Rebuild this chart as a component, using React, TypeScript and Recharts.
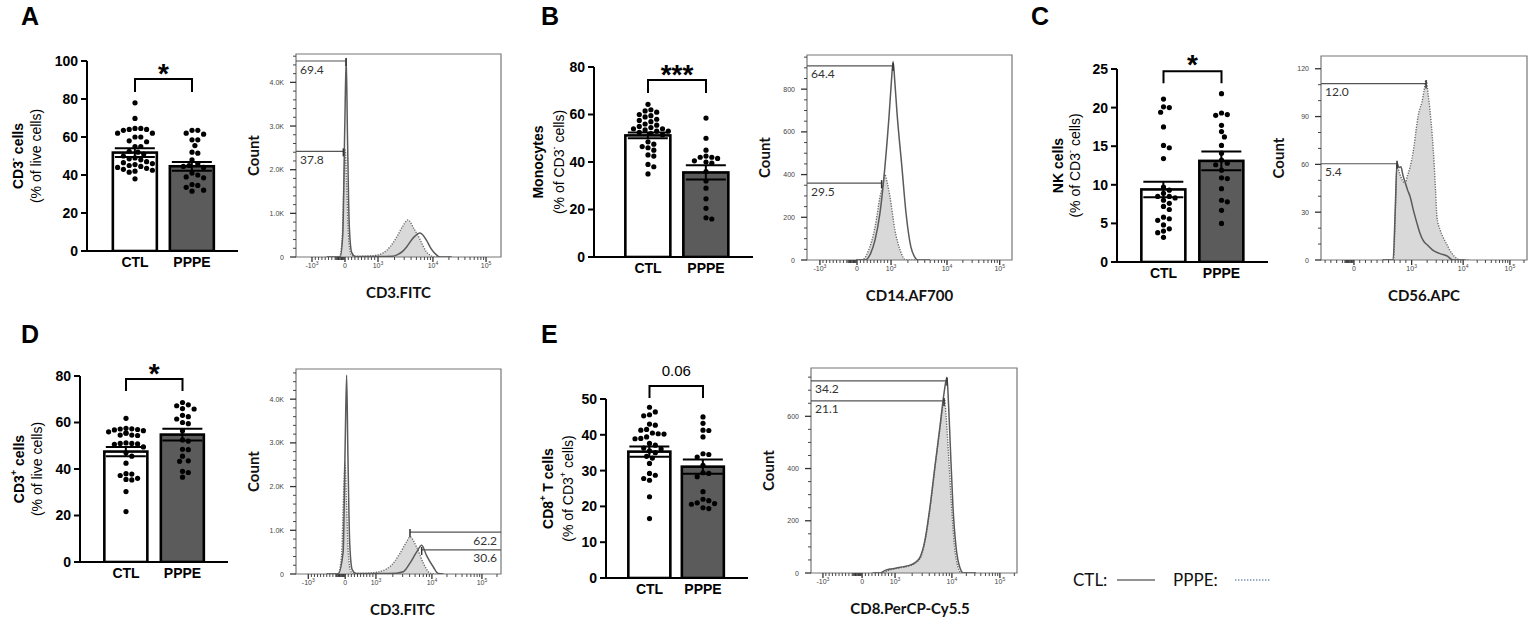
import React from 'react';
import {
  ComposedChart,
  Bar,
  ErrorBar,
  Scatter,
  Area,
  Line,
  XAxis,
  YAxis,
  ReferenceLine,
  ReferenceArea,
} from 'recharts';

const groups = ['CTL', 'PPPE'];

// ---------- dot + bar panels (individual values) ----------
const cd3NegCtl = [78, 69.8, 64.5, 64.5, 64, 64, 63.5, 62, 62, 60, 60, 58, 57.5, 55, 55, 52.5, 52, 51, 50, 49, 48.5, 48, 47, 46.5, 46, 45.5, 45, 44.5, 44, 43.5, 43, 42.5, 42, 41.5, 38];
const cd3NegPppe = [63.5, 63.5, 62, 61.5, 58.5, 58.5, 55.5, 52, 51.5, 48, 46, 45, 44.5, 44, 41, 40, 39, 38.5, 35, 34.5, 33.5, 32, 31.5];
const cd3NegMean = [51.8, 44.6];
const cd3NegSem = [2.3, 2.3];

const monoCtl = [64.3, 62, 61.5, 61, 60, 59.5, 59, 58, 57.5, 57, 56, 55.5, 55, 54.5, 54, 54, 53.5, 53, 53, 52.5, 52, 51.5, 48.5, 47.5, 46.5, 46, 45, 43, 42.5, 39, 38, 35];
const monoPppe = [58.5, 50, 45, 42.5, 42, 42, 41.5, 40.5, 40, 39.5, 36, 32, 29, 24.5, 20.5, 16, 16.5];
const monoMean = [51.2, 35.6];
const monoSem = [1.2, 3.0];

const nkCtl = [21.1, 20.1, 20.0, 19.4, 17.5, 15.1, 14.8, 13.4, 9.7, 9.3, 8.9, 8.5, 8.5, 8.3, 8.0, 7.6, 7.2, 6.8, 5.8, 5.6, 5.4, 4.8, 4.3, 4.0, 3.8, 3.2];
const nkPppe = [21.8, 19.3, 19.1, 19.0, 17.7, 16.9, 16.2, 15.1, 14.1, 13.2, 12.8, 12.6, 11.9, 10.9, 10.8, 9.5, 8.0, 7.8, 6.7, 5.0];
const nkMean = [9.4, 13.1];
const nkSem = [1.0, 1.2];

const cd3PosCtl = [61.8, 57.5, 57.3, 57, 56.8, 57.2, 56.5, 56, 55.5, 55.4, 54.6, 54.6, 54.4, 51.2, 51, 51, 50.8, 50.6, 49.5, 47, 45.5, 42.5, 38, 37.8, 37.2, 36, 35.5, 35.3, 30.3, 21.7];
const cd3PosPppe = [68.6, 67.6, 67.2, 66, 65.8, 63.1, 62.5, 61.5, 60, 59.5, 56.5, 52.5, 52, 48.5, 48.3, 45.5, 43.5, 43.3, 39, 38.5, 36.5];
const cd3PosMean = [47.5, 54.8];
const cd3PosSem = [2.0, 2.5];

const cd8Ctl = [47.7, 46.4, 45.6, 45.3, 43, 42.7, 41.5, 41.3, 40.5, 40.3, 40.2, 39.4, 39, 38.9, 37.6, 37.1, 36.3, 36, 35.5, 35, 34, 33.5, 32, 29.2, 28.7, 27.8, 27.3, 22.7, 16.6];
const cd8Pppe = [45, 43.2, 41.3, 41.2, 39.4, 34.7, 34.5, 33.8, 31.5, 29.4, 29.2, 28.3, 24.1, 22, 21.6, 21, 20.8, 20.6, 19.4, 19.6];
const cd8Mean = [35.3, 31.1];
const cd8Sem = [1.4, 2.0];

const sigLabels = ['*', '***', '*', '*', '0.06'];

// ---------- flow histograms: [channel (0-1000 across the plot), count] ----------
const histACtl = [[150, 0], [215, 0], [228, 500], [238, 3000], [245, 4550], [251, 2800], [260, 700], [272, 100], [290, 10], [400, 10], [470, 20], [493, 50], [520, 130], [541, 240], [574, 450], [605, 550], [637, 380], [655, 220], [670, 120], [690, 30], [702, 0], [760, 0]];
const histAPppe = [[150, 0], [212, 0], [225, 400], [234, 1800], [240, 2450], [247, 1700], [256, 500], [268, 60], [285, 10], [340, 20], [376, 30], [424, 90], [460, 240], [493, 470], [520, 700], [546, 850], [575, 650], [603, 420], [620, 250], [636, 120], [655, 40], [668, 5], [700, 0]];
const histBCtl = [[240, 0], [283, 0], [310, 30], [332, 94], [356, 220], [380, 435], [400, 670], [412, 840], [420, 930], [428, 840], [439, 690], [463, 435], [483, 220], [507, 60], [525, 15], [541, 0], [600, 0]];
const histBPppe = [[240, 0], [268, 0], [298, 40], [332, 155], [356, 295], [372, 360], [380, 400], [392, 360], [405, 295], [429, 140], [454, 47], [470, 10], [483, 0], [540, 0]];
const histCCtl = [[300, 0], [350, 0], [360, 30], [369, 61], [378, 58], [388, 58.5], [398, 53], [408, 49], [420, 44], [432, 40], [449, 31], [466, 23], [480, 17], [495, 12.5], [520, 9], [544, 6], [578, 4], [612, 2.5], [641, 0], [700, 0]];
const histCPppe = [[300, 0], [352, 0], [362, 35], [369, 60], [380, 55], [395, 50], [408, 48], [420, 53], [432, 58], [451, 71], [462, 82], [471, 90], [480, 95], [490, 99], [500, 106], [510, 113], [520, 104], [529, 94], [540, 78], [549, 61], [556, 44], [563, 27], [578, 19], [592, 14.5], [610, 10], [626, 6], [650, 2], [675, 0], [720, 0]];
const histDCtl = [[150, 0], [205, 0], [230, 500], [240, 3000], [247, 4550], [253, 2800], [262, 700], [274, 100], [293, 10], [400, 10], [490, 20], [523, 50], [556, 250], [588, 500], [613, 660], [637, 420], [670, 160], [694, 10], [720, 0]];
const histDPppe = [[150, 0], [205, 0], [222, 400], [232, 1800], [239, 2540], [246, 1700], [255, 500], [267, 60], [285, 10], [340, 15], [393, 40], [459, 170], [507, 470], [540, 740], [556, 850], [588, 620], [621, 250], [654, 20], [680, 0]];
const histECtl = [[300, 0], [335, 0], [360, 10], [383, 15], [410, 18], [432, 22], [456, 25], [481, 30], [505, 40], [529, 60], [553, 125], [578, 255], [602, 410], [626, 560], [646, 690], [660, 750], [668, 640], [675, 510], [689, 255], [704, 100], [723, 20], [740, 0], [800, 0]];
const histEPppe = [[300, 0], [340, 0], [383, 12], [432, 20], [481, 28], [529, 55], [553, 120], [578, 250], [602, 405], [626, 555], [640, 640], [648, 665], [656, 600], [668, 450], [682, 260], [697, 100], [713, 25], [730, 0], [800, 0]];

const kTicks = [0, 1000, 2000, 3000, 4000];
const kTickLabels = ['0', '1.0K', '2.0K', '3.0K', '4.0K'];
const logLabels = ['-10^3', '0', '10^3', '10^4', '10^5'];

const barFont = '"Liberation Sans", Arial, sans-serif';
const flowFont = 'Lato, "Open Sans", sans-serif';

// simple beeswarm: spread points sideways so dots do not overlap
function swarm(values: number[], center: number, pxY: number, unitPx: number, halfW: number) {
  const d = 5.8;
  const placed: { px: number; py: number }[] = [];
  return [...values]
    .sort((a, b) => b - a)
    .map((v) => {
      const py = v * pxY;
      let chosen = 0;
      for (let k = 0; k < 60; k++) {
        const off = (k % 2 === 1 ? 1 : -1) * Math.ceil(k / 2) * (d / 2);
        if (Math.abs(off) > halfW) continue;
        if (placed.every((p) => (p.px - off) ** 2 + (p.py - py) ** 2 >= d * d)) {
          chosen = off;
          break;
        }
      }
      placed.push({ px: chosen, py });
      return { x: center + chosen / unitPx, y: v };
    });
}

const Title = ({ x, y, parts, bold }: any) => (
  <text
    transform={`rotate(-90 ${x} ${y})`}
    x={x}
    y={y}
    textAnchor="middle"
    dominantBaseline="central"
    fontSize={14}
    fontWeight={bold ? 700 : 400}
    fontFamily={barFont}
    fill="#000"
  >
    {parts.map((p: any, i: number) =>
      p.sup ? (
        <tspan key={i} dy={-5} fontSize={9}>{p.t}</tspan>
      ) : (
        <tspan key={i} dy={i > 0 && parts[i - 1].sup ? 5 : 0}>{p.t}</tspan>
      ),
    )}
  </text>
);

function BarPanel({ cfg }: any) {
  const { plot } = cfg;
  const YW = 80;
  const TOP = 45;
  const XH = 30;
  const RIGHT = 10;
  const width = plot.w + YW + RIGHT;
  const height = plot.h + TOP + XH;
  const domain = [-cfg.c0 / cfg.unit, (plot.w - cfg.c0) / cfg.unit];
  const pxY = plot.h / cfg.yMax;
  const halfW = cfg.barSize / 2 - 2;
  const dots = [
    ...swarm(cfg.ctl, 0, pxY, cfg.unit, halfW),
    ...swarm(cfg.pppe, 1, pxY, cfg.unit, halfW),
  ];
  const bars = cfg.means.map((m: number, i: number) => ({ x: i, mean: m, sem: cfg.sems[i] }));
  const sigX = YW + cfg.c0 + cfg.unit / 2;
  const sigY = TOP + plot.h * (1 - cfg.sigLevel / cfg.yMax) + cfg.sigDy;
  const cy = TOP + plot.h / 2;
  return (
    <div style={{ position: 'absolute', left: plot.x - YW, top: plot.y - TOP, width, height }}>
      <ComposedChart width={width} height={height} data={bars} margin={{ top: TOP, right: RIGHT, bottom: 0, left: 0 }}>
        <XAxis
          dataKey="x"
          type="number"
          domain={domain}
          allowDataOverflow
          ticks={[0, 1]}
          interval={0}
          tickFormatter={(v) => groups[v]}
          height={XH}
          tickLine={false}
          tickSize={0}
          tickMargin={6}
          axisLine={{ stroke: '#000', strokeWidth: 2 }}
          tick={{ fill: '#000', fontSize: 14, fontWeight: 700, fontFamily: barFont }}
        />
        <YAxis
          type="number"
          domain={[0, cfg.yMax]}
          allowDataOverflow
          ticks={cfg.yTicks}
          interval={0}
          width={YW}
          tickSize={6}
          tickMargin={3}
          tickLine={{ stroke: '#000', strokeWidth: 2 }}
          axisLine={{ stroke: '#000', strokeWidth: 2 }}
          tick={{ fill: '#000', fontSize: 14, fontWeight: 700, fontFamily: barFont }}
          label={() => (
            <g>
              <Title x={YW - cfg.titleOffsets[0]} y={cy} parts={cfg.title1} bold />
              <Title x={YW - cfg.titleOffsets[1]} y={cy} parts={cfg.title2} />
            </g>
          )}
        />
        <Bar
          dataKey="mean"
          isAnimationActive={false}
          shape={(p: any) => {
            const cx = p.x + p.width / 2;
            return (
              <rect
                x={cx - cfg.barSize / 2}
                y={p.y}
                width={cfg.barSize}
                height={p.height}
                fill={p.payload.x === 0 ? '#ffffff' : '#5b5b5b'}
                stroke="#000"
                strokeWidth={2.6}
              />
            );
          }}
        >
          <ErrorBar dataKey="sem" width={20} strokeWidth={2} stroke="#000" direction="y" isAnimationActive={false} />
        </Bar>
        <Scatter
          data={dots}
          dataKey="y"
          isAnimationActive={false}
          shape={(p: any) => <circle cx={p.cx} cy={p.cy} r={2.6} fill="#000" />}
        />
        <ReferenceLine
          segment={[{ x: 0, y: cfg.sigLevel }, { x: 1, y: cfg.sigLevel }]}
          ifOverflow="visible"
          stroke="#000"
          shape={(p: any) => (
            <path
              d={`M${p.x1},${p.y1 + cfg.drop}V${p.y1}H${p.x2}V${p.y2 + cfg.drop}`}
              fill="none"
              stroke="#000"
              strokeWidth={2}
            />
          )}
          label={() => (
            <text
              x={sigX}
              y={sigY}
              textAnchor="middle"
              fontSize={cfg.sigSize}
              fontWeight={cfg.sigWeight}
              fontFamily={barFont}
              fill="#000"
            >
              {cfg.sig}
            </text>
          )}
        />
      </ComposedChart>
    </div>
  );
}

function mergeCurves(ctl: number[][], pppe: number[][]) {
  const map = new Map<number, any>();
  ctl.forEach(([x, y]) => map.set(x, { ...(map.get(x) || { x }), ctl: y }));
  pppe.forEach(([x, y]) => map.set(x, { ...(map.get(x) || { x }), pppe: y }));
  return [...map.values()].sort((a, b) => a.x - b.x);
}

// minor ticks of a logicle-like axis, from the major tick positions
function logMinors(pos: number[], labels: string[]) {
  const out: number[] = [];
  const i0 = labels.indexOf('0');
  const p0 = pos[i0];
  const lin = (pos[i0 + 1] - p0) / 10;
  const left = i0 > 0 ? pos[i0 - 1] : 0;
  for (let p = p0 - lin; p > left + 1; p -= lin) out.push(p);
  for (let k = 1; k < 10; k++) out.push(p0 + k * lin);
  for (let p = p0 - 44; p < p0 - 2; p += 4) out.push(p);
  for (let j = i0 + 1; j < pos.length; j++) {
    const span = j + 1 < pos.length ? pos[j + 1] - pos[j] : pos[j] - pos[j - 1];
    for (let k = 2; k < 10; k++) {
      const p = pos[j] + Math.log10(k) * span;
      if (p < 995) out.push(p);
    }
  }
  return out.filter((p) => p > 2);
}

function HistPanel({ cfg }: any) {
  const { box } = cfg;
  const YW = 60;
  const TOP = 8;
  const RIGHT = 8;
  const XH = 50;
  const width = box.w + YW + RIGHT;
  const height = box.h + TOP + XH;
  const data = mergeCurves(cfg.ctl, cfg.pppe);
  const yMinor: number[] = [];
  for (let v = cfg.yStep; v < cfg.yMax; v += cfg.yStep) {
    if (!cfg.yTicks.some((t: number) => Math.abs(t - v) < 1e-6)) yMinor.push(v);
  }
  const xMinor = logMinors(cfg.xTicks, cfg.xLabels);

  const xTick = (p: any) => {
    const idx = cfg.xTicks.findIndex((m: number) => Math.abs(m - p.payload.value) < 0.01);
    if (idx < 0) {
      return <line x1={p.x} x2={p.x} y1={p.y} y2={p.y + 3} stroke="#333" strokeWidth={0.9} />;
    }
    const [base, exp] = cfg.xLabels[idx].split('^');
    return (
      <g>
        <line x1={p.x} x2={p.x} y1={p.y} y2={p.y + 5} stroke="#333" strokeWidth={1.3} />
        <text x={p.x} y={p.y + 11} textAnchor="middle" fontSize={7} fill="#444" fontFamily={barFont}>
          {base}
          {exp && (
            <tspan dy={-3} fontSize={5}>
              {exp}
            </tspan>
          )}
        </text>
      </g>
    );
  };

  const yTick = (p: any) => {
    const idx = cfg.yTicks.findIndex((m: number) => Math.abs(m - p.payload.value) < 1e-6);
    if (idx < 0) {
      return <line x1={p.x - 3} x2={p.x} y1={p.y} y2={p.y} stroke="#333" strokeWidth={0.9} />;
    }
    return (
      <g>
        <line x1={p.x - 6} x2={p.x} y1={p.y} y2={p.y} stroke="#333" strokeWidth={1.3} />
        <text x={p.x - 12} y={p.y + 2.5} textAnchor="end" fontSize={7} fill="#444" fontFamily={barFont}>
          {cfg.yLabels[idx]}
        </text>
      </g>
    );
  };

  return (
    <div style={{ position: 'absolute', left: box.x - YW, top: box.y - TOP, width, height }}>
      <ComposedChart width={width} height={height} data={data} margin={{ top: TOP, right: RIGHT, bottom: 0, left: 0 }}>
        <XAxis
          dataKey="x"
          type="number"
          domain={[0, 1000]}
          allowDataOverflow
          ticks={[...cfg.xTicks, ...xMinor]}
          interval={0}
          height={XH}
          tickLine={false}
          axisLine={false}
          tickSize={0}
          tickMargin={0}
          tick={xTick}
          label={() => (
            <text
              x={YW + box.w / 2 + (cfg.titleDx || 0)}
              y={TOP + box.h + 41}
              textAnchor="middle"
              fontSize={15}
              fontWeight={700}
              fontFamily={flowFont}
              fill="#111"
            >
              {cfg.title}
            </text>
          )}
        />
        <YAxis
          type="number"
          domain={[0, cfg.yMax]}
          allowDataOverflow
          ticks={[...cfg.yTicks, ...yMinor]}
          interval={0}
          width={YW}
          tickLine={false}
          axisLine={false}
          tickSize={0}
          tickMargin={0}
          tick={yTick}
          label={() => (
            <text
              transform={`rotate(-90 ${YW - 43} ${TOP + box.h / 2})`}
              x={YW - 43}
              y={TOP + box.h / 2}
              textAnchor="middle"
              dominantBaseline="central"
              fontSize={15}
              fontWeight={700}
              fontFamily={flowFont}
              fill="#111"
            >
              Count
            </text>
          )}
        />
        <Area
          type="monotone"
          dataKey="pppe"
          connectNulls
          stroke="#6a6a6a"
          strokeWidth={1.4}
          strokeDasharray="1.2 1.4"
          fill="#d9d9d9"
          fillOpacity={1}
          dot={false}
          activeDot={false}
          isAnimationActive={false}
        />
        <Line
          type="monotone"
          dataKey="ctl"
          connectNulls
          stroke="#5a5a5a"
          strokeWidth={1.5}
          dot={false}
          activeDot={false}
          isAnimationActive={false}
        />
        {cfg.gates.map((g: any, i: number) => (
          <ReferenceLine
            key={i}
            segment={[{ x: g.from, y: g.y }, { x: g.to, y: g.y }]}
            ifOverflow="visible"
            stroke="#555"
            shape={(p: any) => {
              const tx = g.tickAt === 'end' ? p.x2 : p.x1;
              return (
                <g>
                  <line x1={p.x1} x2={p.x2} y1={p.y1} y2={p.y2} stroke="#555" strokeWidth={1.2} />
                  <line x1={tx} x2={tx} y1={p.y1 - 3} y2={p.y1 + 5} stroke="#333" strokeWidth={1.5} />
                </g>
              );
            }}
            label={{
              value: g.label,
              position: g.tickAt === 'end' ? 'insideTopLeft' : 'insideTopRight',
              offset: 4,
              fill: '#333',
              fontSize: 12,
              fontFamily: flowFont,
            }}
          />
        ))}
        <ReferenceArea x1={0} x2={1000} y1={0} y2={cfg.yMax} ifOverflow="visible" fill="none" stroke="#777" strokeWidth={1.2} />
      </ComposedChart>
    </div>
  );
}

const barPanels = [
  {
    plot: { x: 87, y: 61, w: 151, h: 190 }, yMax: 100, yTicks: [0, 20, 40, 60, 80, 100],
    c0: 48, unit: 57, barSize: 44, ctl: cd3NegCtl, pppe: cd3NegPppe, means: cd3NegMean, sems: cd3NegSem,
    title1: [{ t: 'CD3' }, { t: '-', sup: true }, { t: ' cells' }], title2: [{ t: '(% of live cells)' }],
    titleOffsets: [69, 51], sig: sigLabels[0], sigLevel: 90.5, sigDy: 4, sigSize: 28, sigWeight: 700, drop: 13,
  },
  {
    plot: { x: 594, y: 67, w: 159, h: 190 }, yMax: 80, yTicks: [0, 20, 40, 60, 80],
    c0: 54, unit: 58, barSize: 45, ctl: monoCtl, pppe: monoPppe, means: monoMean, sems: monoSem,
    title1: [{ t: 'Monocytes' }], title2: [{ t: '(% of CD3' }, { t: '-', sup: true }, { t: ' cells)' }],
    titleOffsets: [56, 35], sig: sigLabels[1], sigLevel: 74.5, sigDy: 4, sigSize: 28, sigWeight: 700, drop: 13,
  },
  {
    plot: { x: 1117, y: 69, w: 151, h: 193 }, yMax: 25, yTicks: [0, 5, 10, 15, 20, 25],
    c0: 46.5, unit: 58, barSize: 44, ctl: nkCtl, pppe: nkPppe, means: nkMean, sems: nkSem,
    title1: [{ t: 'NK cells' }], title2: [{ t: '(% of CD3' }, { t: '-', sup: true }, { t: ' cells)' }],
    titleOffsets: [59, 42], sig: sigLabels[2], sigLevel: 24.7, sigDy: 3, sigSize: 28, sigWeight: 700, drop: 12,
  },
  {
    plot: { x: 80, y: 376, w: 148, h: 186 }, yMax: 80, yTicks: [0, 20, 40, 60, 80],
    c0: 46, unit: 56.5, barSize: 43, ctl: cd3PosCtl, pppe: cd3PosPppe, means: cd3PosMean, sems: cd3PosSem,
    title1: [{ t: 'CD3' }, { t: '+', sup: true }, { t: ' cells' }], title2: [{ t: '(% of live cells)' }],
    titleOffsets: [61, 43], sig: sigLabels[3], sigLevel: 78.7, sigDy: 4, sigSize: 28, sigWeight: 700, drop: 12,
  },
  {
    plot: { x: 606, y: 399, w: 142, h: 179 }, yMax: 50, yTicks: [0, 10, 20, 30, 40, 50],
    c0: 43.5, unit: 53.5, barSize: 42, ctl: cd8Ctl, pppe: cd8Pppe, means: cd8Mean, sems: cd8Sem,
    title1: [{ t: 'CD8' }, { t: '+', sup: true }, { t: ' T cells' }], title2: [{ t: '(% of CD3' }, { t: '+', sup: true }, { t: ' cells)' }],
    titleOffsets: [58, 38], sig: sigLabels[4], sigLevel: 53.6, sigDy: -10, sigSize: 15, sigWeight: 400, drop: 12,
  },
];

const histPanels = [
  {
    box: { x: 296, y: 54, w: 205, h: 203 }, yMax: 4650, yTicks: kTicks, yLabels: kTickLabels, yStep: 200,
    xTicks: [78, 239, 400, 668, 927], xLabels: logLabels, title: 'CD3.FITC', ctl: histACtl, pppe: histAPppe,
    gates: [{ from: 0, to: 244, y: 4490, label: '69.4', tickAt: 'end' }, { from: 0, to: 231, y: 2420, label: '37.8', tickAt: 'end' }],
  },
  {
    box: { x: 807, y: 55, w: 205, h: 205 }, yMax: 960, yTicks: [0, 200, 400, 600, 800], yLabels: ['0', '200', '400', '600', '800'], yStep: 50,
    xTicks: [63, 244, 410, 683, 940], xLabels: logLabels, title: 'CD14.AF700', ctl: histBCtl, pppe: histBPppe,
    gates: [{ from: 0, to: 420, y: 909, label: '64.4', tickAt: 'end' }, { from: 0, to: 364, y: 360, label: '29.5', tickAt: 'end' }],
  },
  {
    box: { x: 1321, y: 56, w: 206, h: 204 }, yMax: 128, yTicks: [0, 30, 60, 90, 120], yLabels: ['0', '30', '60', '90', '120'], yStep: 10,
    xTicks: [160, 440, 690, 917], xLabels: ['0', '10^3', '10^4', '10^5'], title: 'CD56.APC', ctl: histCCtl, pppe: histCPppe,
    gates: [{ from: 0, to: 510, y: 110.7, label: '12.0', tickAt: 'end' }, { from: 0, to: 369, y: 60.4, label: '5.4', tickAt: 'end' }],
  },
  {
    box: { x: 296, y: 369, w: 205, h: 205 }, yMax: 4690, yTicks: kTicks, yLabels: kTickLabels, yStep: 200,
    xTicks: [60, 240, 390, 663, 907], xLabels: logLabels, title: 'CD3.FITC', titleDx: 4, ctl: histDCtl, pppe: histDPppe,
    gates: [{ from: 556, to: 1000, y: 960, label: '62.2', tickAt: 'start' }, { from: 613, to: 1000, y: 550, label: '30.6', tickAt: 'start' }],
  },
  {
    box: { x: 811, y: 368, w: 206, h: 205 }, yMax: 785, yTicks: [0, 200, 400, 600], yLabels: ['0', '200', '400', '600'], yStep: 50,
    xTicks: [58, 248, 408, 684, 917], xLabels: logLabels, title: 'CD8.PerCP-Cy5.5', titleDx: -4, ctl: histECtl, pppe: histEPppe,
    gates: [{ from: 0, to: 660, y: 736, label: '34.2', tickAt: 'end' }, { from: 0, to: 646, y: 659, label: '21.1', tickAt: 'end' }],
  },
];

const panelLetters = [
  { t: 'A', x: 21, y: 25 },
  { t: 'B', x: 541, y: 25 },
  { t: 'C', x: 1031, y: 25 },
  { t: 'D', x: 21, y: 343 },
  { t: 'E', x: 541, y: 343 },
];

export default function App() {
  return (
    <div style={{ position: 'absolute', left: 0, top: 0, width: 1535, height: 625, background: '#fff', fontFamily: barFont }}>
      {barPanels.map((cfg, i) => (
        <BarPanel key={`b${i}`} cfg={cfg} />
      ))}
      {histPanels.map((cfg, i) => (
        <HistPanel key={`h${i}`} cfg={cfg} />
      ))}
      <svg width={1535} height={625} style={{ position: 'absolute', left: 0, top: 0, pointerEvents: 'none' }}>
        {panelLetters.map((l) => (
          <text key={l.t} x={l.x} y={l.y} fontSize={25} fontWeight={700} fontFamily={barFont} fill="#000">
            {l.t}
          </text>
        ))}
        <text x={1073} y={586} fontSize={17} fontFamily={flowFont} fill="#111">CTL:</text>
        <line x1={1117} x2={1155} y1={580} y2={580} stroke="#6e6e6e" strokeWidth={1.6} />
        <text x={1173} y={586} fontSize={17} fontFamily={flowFont} fill="#111">PPPE:</text>
        <line x1={1235} x2={1270} y1={580} y2={580} stroke="#7b8fb0" strokeWidth={1.6} strokeDasharray="1.4 1.6" />
      </svg>
    </div>
  );
}
